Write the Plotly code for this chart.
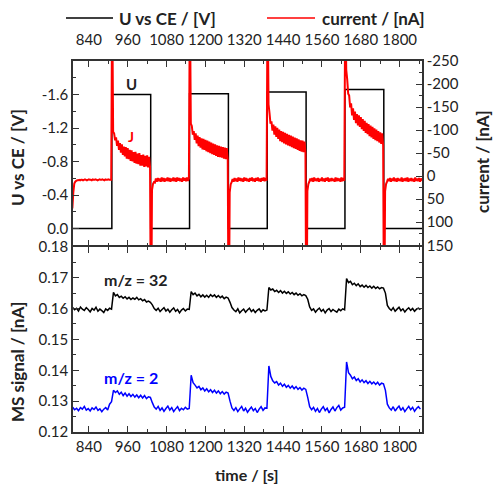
import plotly.graph_objects as go

# ---------------- data ----------------
# electrode potential (step profile)
u_times = [791, 911, 1031, 1151, 1271, 1391, 1511, 1631, 1751, 1869]
u_levels = [0.0, -1.60, 0.0, -1.61, 0.0, -1.63, 0.0, -1.66, 0.0, 0.0]

# current (nA), sampled every 3 s, one list per half period
cur_step = 3
cur_starts = [789, 912, 1032, 1152, 1272, 1392, 1512, 1632, 1752]
cur_off0 = [70, 35, 16, 12, 10, 9, 9, 8, 9, 8, 8, 9, 8, 7, 8, 9, 8, 7, 8, 8, 9, 7, 8, 8, 7,
            8, 9, 8, 7, 8, 8, 7, 8, 9, 7, 8, 8, 7, 8, 8, 8]
cur_on1 = [-400, -96, -93, -78, -84, -66, -77, -57, -72, -51, -69, -46, -64, -43, -63, -38,
           -61, -37, -57, -33, -56, -32, -52, -29, -53, -27, -49, -26, -50, -23, -46, -23,
           -47, -20, -44, -21, -45, -19, -42, -19]
cur_off1 = [400, 30, 17, 13, 14, 5, 12, 4, 11, 5, 12, 3, 11, 4, 12, 5, 10, 3, 11, 4, 12, 5,
            10, 3, 11, 4, 12, 3, 10, 4, 11, 5, 12, 3, 10, 4, 11, 3, 10, 5]
cur_on2 = [-400, -114, -109, -90, -98, -79, -93, -71, -88, -65, -85, -62, -82, -58, -81, -57,
           -79, -54, -77, -52, -75, -50, -73, -48, -71, -46, -69, -44, -67, -42, -66, -41,
           -64, -40, -63, -38, -62, -37, -61, -36]
cur_off2 = [400, 35, 18, 13, 6, 12, 4, 11, 5, 12, 3, 10, 4, 11, 5, 12, 3, 10, 4, 11, 6, 12,
            4, 10, 3, 11, 5, 12, 4, 10, 3, 11, 5, 12, 4, 10, 3, 11, 4, 10]
cur_on3 = [-400, -156, -137, -114, -119, -99, -112, -90, -108, -85, -105, -81, -101, -76, -98,
           -74, -96, -71, -94, -69, -92, -67, -90, -65, -88, -63, -86, -61, -84, -59, -82,
           -57, -80, -55, -78, -53, -77, -52, -75, -51]
cur_off3 = [400, 32, 17, 12, 5, 11, 4, 12, 3, 10, 5, 11, 4, 12, 6, 10, 3, 11, 5, 12, 4, 10,
            3, 12, 5, 11, 4, 10, 6, 12, 3, 11, 4, 10, 5, 12, 3, 11, 4, 10]
cur_on4 = [-400, -231, -210, -179, -175, -149, -158, -132, -147, -122, -140, -115, -135, -110,
           -132, -107, -128, -102, -124, -98, -120, -94, -116, -91, -113, -87, -110, -84,
           -107, -81, -104, -78, -101, -76, -98, -73, -95, -70, -93, -67]
cur_off4 = [400, 33, 17, 12, 6, 11, 4, 12, 5, 10, 3, 11, 5, 12, 4, 10, 6, 11, 3, 12, 5, 10,
            4, 11, 3, 12, 5, 10, 4, 11, 6, 12, 3, 10, 5, 11, 4, 12, 5, 10]
cur_segments = [cur_off0, cur_on1, cur_off1, cur_on2, cur_off2, cur_on3, cur_off3, cur_on4, cur_off4]

# mass spec signals (nA), sampled every 6 s, one list per half period
ms_step = 6
ms_starts = [790, 910, 1030, 1150, 1270, 1390, 1510, 1630, 1750]
ms32 = [
    [0.1603, 0.1596, 0.1601, 0.1592, 0.1605, 0.1598, 0.1594, 0.1603, 0.1597, 0.1589,
     0.1600, 0.1595, 0.1604, 0.1591, 0.1598, 0.1593, 0.1587, 0.1599, 0.1594, 0.1601],
    [0.1598, 0.1652, 0.1641, 0.1645, 0.1636, 0.1640, 0.1633, 0.1638, 0.1631, 0.1636,
     0.1629, 0.1634, 0.1630, 0.1636, 0.1628, 0.1632, 0.1625, 0.1629, 0.1621, 0.1624],
    [0.1620, 0.1612, 0.1600, 0.1594, 0.1601, 0.1590, 0.1597, 0.1603, 0.1592, 0.1598,
     0.1588, 0.1596, 0.1602, 0.1591, 0.1597, 0.1586, 0.1595, 0.1600, 0.1592, 0.1598],
    [0.1597, 0.1655, 0.1645, 0.1650, 0.1641, 0.1646, 0.1638, 0.1644, 0.1637, 0.1643,
     0.1636, 0.1645, 0.1639, 0.1644, 0.1636, 0.1642, 0.1635, 0.1640, 0.1632, 0.1637],
    [0.1634, 0.1620, 0.1603, 0.1595, 0.1590, 0.1599, 0.1586, 0.1593, 0.1598, 0.1588,
     0.1595, 0.1601, 0.1590, 0.1596, 0.1587, 0.1594, 0.1599, 0.1589, 0.1596, 0.1592],
    [0.1595, 0.1668, 0.1660, 0.1663, 0.1655, 0.1659, 0.1652, 0.1658, 0.1650, 0.1656,
     0.1649, 0.1654, 0.1647, 0.1652, 0.1645, 0.1650, 0.1643, 0.1648, 0.1641, 0.1645],
    [0.1642, 0.1630, 0.1605, 0.1594, 0.1599, 0.1588, 0.1596, 0.1601, 0.1591, 0.1597,
     0.1586, 0.1595, 0.1600, 0.1590, 0.1597, 0.1592, 0.1588, 0.1598, 0.1593, 0.1599],
    [0.1596, 0.1697, 0.1684, 0.1688, 0.1677, 0.1682, 0.1674, 0.1680, 0.1671, 0.1676,
     0.1669, 0.1675, 0.1668, 0.1673, 0.1666, 0.1672, 0.1665, 0.1670, 0.1664, 0.1668],
    [0.1666, 0.1650, 0.1610, 0.1600, 0.1594, 0.1603, 0.1591, 0.1598, 0.1604, 0.1593,
     0.1599, 0.1589, 0.1597, 0.1602, 0.1594, 0.1600, 0.1591, 0.1598, 0.1601, 0.1596],
]
ms2 = [
    [0.1280, 0.1272, 0.1277, 0.1269, 0.1279, 0.1274, 0.1283, 0.1271, 0.1276, 0.1268,
     0.1278, 0.1273, 0.1281, 0.1270, 0.1275, 0.1266, 0.1274, 0.1279, 0.1271, 0.1290],
    [0.1298, 0.1335, 0.1328, 0.1333, 0.1322, 0.1329, 0.1318, 0.1326, 0.1316, 0.1324,
     0.1315, 0.1322, 0.1313, 0.1320, 0.1311, 0.1319, 0.1310, 0.1318, 0.1308, 0.1314],
    [0.1312, 0.1295, 0.1281, 0.1274, 0.1283, 0.1270, 0.1278, 0.1267, 0.1276, 0.1284,
     0.1271, 0.1279, 0.1266, 0.1275, 0.1282, 0.1269, 0.1277, 0.1272, 0.1280, 0.1274],
    [0.1276, 0.1384, 0.1360, 0.1352, 0.1343, 0.1348, 0.1337, 0.1343, 0.1333, 0.1340,
     0.1330, 0.1337, 0.1328, 0.1335, 0.1326, 0.1333, 0.1324, 0.1331, 0.1323, 0.1329],
    [0.1326, 0.1300, 0.1278, 0.1270, 0.1279, 0.1266, 0.1275, 0.1283, 0.1268, 0.1277,
     0.1264, 0.1273, 0.1281, 0.1269, 0.1276, 0.1263, 0.1274, 0.1282, 0.1270, 0.1278],
    [0.1277, 0.1414, 0.1380, 0.1366, 0.1359, 0.1363, 0.1352, 0.1358, 0.1348, 0.1355,
     0.1345, 0.1351, 0.1342, 0.1349, 0.1340, 0.1347, 0.1338, 0.1344, 0.1336, 0.1342],
    [0.1338, 0.1312, 0.1282, 0.1272, 0.1280, 0.1267, 0.1276, 0.1263, 0.1274, 0.1282,
     0.1269, 0.1277, 0.1262, 0.1273, 0.1281, 0.1268, 0.1279, 0.1286, 0.1271, 0.1278],
    [0.1280, 0.1427, 0.1392, 0.1384, 0.1372, 0.1378, 0.1367, 0.1373, 0.1362, 0.1369,
     0.1360, 0.1366, 0.1357, 0.1364, 0.1356, 0.1362, 0.1354, 0.1361, 0.1352, 0.1358],
    [0.1356, 0.1335, 0.1290, 0.1278, 0.1271, 0.1282, 0.1268, 0.1277, 0.1284, 0.1270,
     0.1279, 0.1266, 0.1275, 0.1283, 0.1272, 0.1280, 0.1267, 0.1276, 0.1282, 0.1274],
]

x_ticks = [840, 960, 1080, 1200, 1320, 1440, 1560, 1680, 1800]
u_ticks = [-1.6, -1.2, -0.8, -0.4, 0.0]
cur_ticks = [-250, -200, -150, -100, -50, 0, 50, 100, 150]
ms_ticks = [0.12, 0.13, 0.14, 0.15, 0.16, 0.17, 0.18]


def expand(starts, segs, step):
    xs, ys = [], []
    for s, seg in zip(starts, segs):
        for i, v in enumerate(seg):
            xs.append(s + step * i)
            ys.append(v)
    return xs, ys


cur_t, cur_v = expand(cur_starts, cur_segments, cur_step)
ms_t, ms32_v = expand(ms_starts, ms32, ms_step)
_, ms2_v = expand(ms_starts, ms2, ms_step)

# ---------------- figure ----------------
FONT = "Lato"
TXT = "#222222"
AX = "#333333"

fig = go.Figure()
fig.add_trace(go.Scatter(x=u_times, y=u_levels, mode="lines", line=dict(color="black", width=1.5, shape="hv"),
                         xaxis="x2", yaxis="y2", name="U vs CE / [V]"))
fig.add_trace(go.Scatter(x=cur_t, y=cur_v, mode="lines", line=dict(color="#ff0000", width=2, simplify=False),
                         xaxis="x2", yaxis="y3", name="current / [nA]"))
fig.add_trace(go.Scatter(x=ms_t, y=ms32_v, mode="lines", line=dict(color="black", width=1.5, simplify=False),
                         xaxis="x", yaxis="y", name="m/z = 32"))
fig.add_trace(go.Scatter(x=ms_t, y=ms2_v, mode="lines", line=dict(color="#0000ff", width=1.5, simplify=False),
                         xaxis="x", yaxis="y", name="m/z = 2"))

tickfont = dict(family=FONT, size=15, color=TXT)
common = dict(showline=True, linecolor=AX, linewidth=1.5, ticks="inside", ticklen=6, tickwidth=1.2,
              tickcolor=AX, showgrid=False, zeroline=False, tickfont=tickfont)
XR = [791, 1869]
W, H = 349, 371
D = 0.5013
G = 0.75 / H  # half line width gap so the two boundary lines coincide

fig.update_layout(
    width=494, height=485, margin=dict(l=73, r=72, t=61, b=53),
    paper_bgcolor="white", plot_bgcolor="white", showlegend=False,
    xaxis=dict(domain=[0, 1], anchor="y", range=XR, tickmode="array", tickvals=x_ticks,
               ticktext=[str(v) for v in x_ticks], mirror="ticks",
               minor=dict(tickmode="array", tickvals=[900 + 120 * k for k in range(9)], ticklen=3,
                          ticks="inside", tickcolor=AX), **common),
    xaxis2=dict(domain=[0, 1], anchor="y2", range=XR, side="top", tickmode="array", tickvals=x_ticks,
                ticktext=[str(v) for v in x_ticks], mirror="ticks", ticklabelstandoff=8,
                minor=dict(tickmode="array", tickvals=[900 + 120 * k for k in range(9)], ticklen=3,
                           ticks="inside", tickcolor=AX), **common),
    yaxis=dict(domain=[0, D - G], anchor="x", range=[0.12, 0.18], tickmode="array", tickvals=ms_ticks,
               ticktext=["%.2f" % v for v in ms_ticks], mirror="ticks",
               minor=dict(tickmode="array", tickvals=[0.125, 0.135, 0.145, 0.155, 0.165, 0.175],
                          ticklen=3, ticks="inside", tickcolor=AX), **common),
    yaxis2=dict(domain=[D + G, 1], anchor="x2", range=[0.2, -2.0], tickmode="array", tickvals=u_ticks,
                ticktext=["%.1f" % v if v != 0 else "0.0" for v in u_ticks],
                minor=dict(tickmode="array", tickvals=[-1.8, -1.4, -1.0, -0.6, -0.2],
                           ticklen=3, ticks="inside", tickcolor=AX), **common),
    yaxis3=dict(anchor="x2", overlaying="y2", side="right", range=[150, -250], tickmode="array",
                tickvals=cur_ticks, ticktext=[str(v) for v in cur_ticks],
                minor=dict(tickmode="array", tickvals=[-225, -175, -125, -75, -25, 25, 75, 125],
                           ticklen=3, ticks="inside", tickcolor=AX), **common),
)


def px(x):
    return (x - 73) / W


def py(y):
    return (432 - y) / H


bold = lambda s, c=TXT: dict(family=FONT, size=s, color=c, weight="bold")
ann = [
    dict(text="U vs CE / [V]", x=px(17), y=py(157), textangle=-90, font=bold(17)),
    dict(text="MS signal / [nA]", x=px(17), y=py(362), textangle=-90, font=bold(17)),
    dict(text="current / [nA]", x=px(482), y=py(162), textangle=-90, font=bold(17)),
    dict(text="time / [s]", x=px(247), y=py(474), font=bold(16)),
    dict(text="U vs CE / [V]", x=px(117), y=py(18), xanchor="left", font=bold(17)),
    dict(text="current / [nA]", x=px(320), y=py(18), xanchor="left", font=bold(17)),
]
for a in ann:
    a.update(xref="paper", yref="paper", showarrow=False)
    a.setdefault("xanchor", "center")
    a["yanchor"] = "middle"

ann += [
    dict(text="U", x=971, y=-1.72, xref="x2", yref="y2", showarrow=False, font=bold(15)),
    dict(text="J", x=971, y=-1.10, xref="x2", yref="y2", showarrow=False, font=bold(14, "#ff0000")),
    dict(text="m/z = 32", x=882, y=0.1694, xref="x", yref="y", xanchor="left", showarrow=False, font=bold(16)),
    dict(text="m/z = 2", x=882, y=0.1376, xref="x", yref="y", xanchor="left", showarrow=False,
         font=bold(16, "#0000ff")),
]
fig.update_layout(annotations=ann)

fig.add_shape(type="line", xref="paper", yref="paper", x0=px(66), x1=px(113), y0=py(18), y1=py(18),
              line=dict(color="black", width=1.5))
fig.add_shape(type="line", xref="paper", yref="paper", x0=px(267), x1=px(315), y0=py(18), y1=py(18),
              line=dict(color="#ff0000", width=1.5))

fig.write_html("out.html")
